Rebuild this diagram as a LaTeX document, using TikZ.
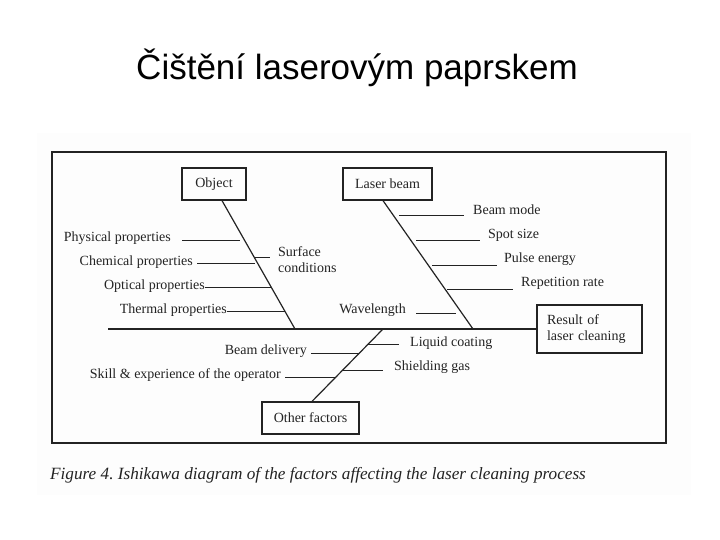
\documentclass[tikz,border=0pt]{standalone}
\usepackage{fontspec}
\setmainfont{Liberation Serif}
\newfontfamily\titlefont{Liberation Sans}
\definecolor{ink}{RGB}{35,35,35}
\definecolor{bgpanel}{RGB}{253,253,253}
\frenchspacing
\begin{document}
\begin{tikzpicture}[x=1pt,y=-1pt,
  box/.style={draw=ink, line width=1.2pt, inner sep=0pt, font=\fontsize{14}{16}\selectfont, text=ink},
  lbl/.style={inner sep=0pt, font=\fontsize{14}{16}\selectfont, text=ink},
  bone/.style={draw=ink, line width=1.2pt},
  twig/.style={draw=ink, line width=1pt}]
\useasboundingbox (0,0) rectangle (720,540);
\fill[white] (0,0) rectangle (720,540);
\fill[bgpanel] (37,133) rectangle (691,495);
\node[font=\titlefont\fontsize{35}{40}\selectfont, anchor=base, inner sep=0pt] (title) at (357,80) {Čištění laserovým paprskem};
\node[draw=ink, line width=1.5pt, minimum width=614pt, minimum height=291pt, inner sep=0pt] (frame) at (359,297.5) {};

% boxes
\node[box, minimum width=64pt, minimum height=32pt] (object) at (214,184) {Object};
\node[box, minimum width=89pt, minimum height=32pt] (laser) at (387.5,184) {Laser beam};
\node[box, minimum width=105pt, minimum height=48pt, text width=85pt, align=left] (result) at (589.5,329) {Result of\\laser cleaning};
\node[box, minimum width=97pt, minimum height=32pt] (other) at (310.5,418) {Other factors};

% spine and main bones
\coordinate (tail) at (108,329);
\coordinate (oj) at (295,329);
\coordinate (lj) at (473,329);
\coordinate (xj) at (383,329);
\draw[bone] (tail) -- (result.west);
\draw[bone] ([xshift=8pt]object.south) -- (oj);
\draw[bone] ([xshift=-4.5pt]laser.south) -- (lj);
\draw[bone] ([xshift=1.5pt]other.north) -- (xj);

% Object causes
\node[lbl, anchor=mid east] (phys) at (171,239) {Physical properties};
\node[lbl, anchor=mid east] (chem) at (193,263) {Chemical properties};
\node[lbl, anchor=mid east] (opt) at (205,287) {Optical properties};
\node[lbl, anchor=mid east] (therm) at (227,311) {Thermal properties};
\node[lbl, anchor=west, align=left, font=\fontsize{14}{16}\selectfont] (surf) at (278,260) {Surface\\conditions};
\coordinate (physA) at (182,240); \coordinate (physB) at (240,240);
\coordinate (chemA) at (197,263); \coordinate (chemB) at (255,263);
\coordinate (optA) at (205,287); \coordinate (optB) at (271,287);
\coordinate (thermA) at (227,311); \coordinate (thermB) at (285,311);
\coordinate (surfA) at (254,257); \coordinate (surfB) at (270,257);
\draw[twig] (physA) -- (physB);
\draw[twig] (chemA) -- (chemB);
\draw[twig] (optA) -- (optB);
\draw[twig] (thermA) -- (thermB);
\draw[twig] (surfA) -- (surfB);

% Laser beam causes
\node[lbl, anchor=mid west] (mode) at (473,212) {Beam mode};
\node[lbl, anchor=mid west] (spot) at (488,236) {Spot size};
\node[lbl, anchor=mid west] (pulse) at (504,260) {Pulse energy};
\node[lbl, anchor=mid west] (rep) at (521,284) {Repetition rate};
\node[lbl, anchor=mid east] (wave) at (406,311) {Wavelength};
\coordinate (modeA) at (399,216); \coordinate (modeB) at (464,216);
\coordinate (spotA) at (416,240); \coordinate (spotB) at (480,240);
\coordinate (pulseA) at (432,265); \coordinate (pulseB) at (497,265);
\coordinate (repA) at (447,289); \coordinate (repB) at (513,289);
\coordinate (waveA) at (416,313); \coordinate (waveB) at (456,313);
\draw[twig] (modeA) -- (modeB);
\draw[twig] (spotA) -- (spotB);
\draw[twig] (pulseA) -- (pulseB);
\draw[twig] (repA) -- (repB);
\draw[twig] (waveA) -- (waveB);

% Other factors causes
\node[lbl, anchor=mid east] (deliv) at (307,352) {Beam delivery};
\node[lbl, anchor=mid east] (skill) at (281,376) {Skill \& experience of the operator};
\node[lbl, anchor=mid west] (liquid) at (410,344) {Liquid coating};
\node[lbl, anchor=mid west] (gas) at (394,368) {Shielding gas};
\coordinate (delivA) at (311,353); \coordinate (delivB) at (359,353);
\coordinate (skillA) at (285,377); \coordinate (skillB) at (336,377);
\coordinate (liquidA) at (368,344); \coordinate (liquidB) at (399,344);
\coordinate (gasA) at (343,370); \coordinate (gasB) at (383,370);
\draw[twig] (delivA) -- (delivB);
\draw[twig] (skillA) -- (skillB);
\draw[twig] (liquidA) -- (liquidB);
\draw[twig] (gasA) -- (gasB);

% caption
\node[anchor=base west, inner sep=0pt, font=\itshape\fontsize{17.2}{20}\selectfont, text=ink] (caption) at (50,479) {Figure 4. Ishikawa diagram of the factors affecting the laser cleaning process};
\end{tikzpicture}
\end{document}
